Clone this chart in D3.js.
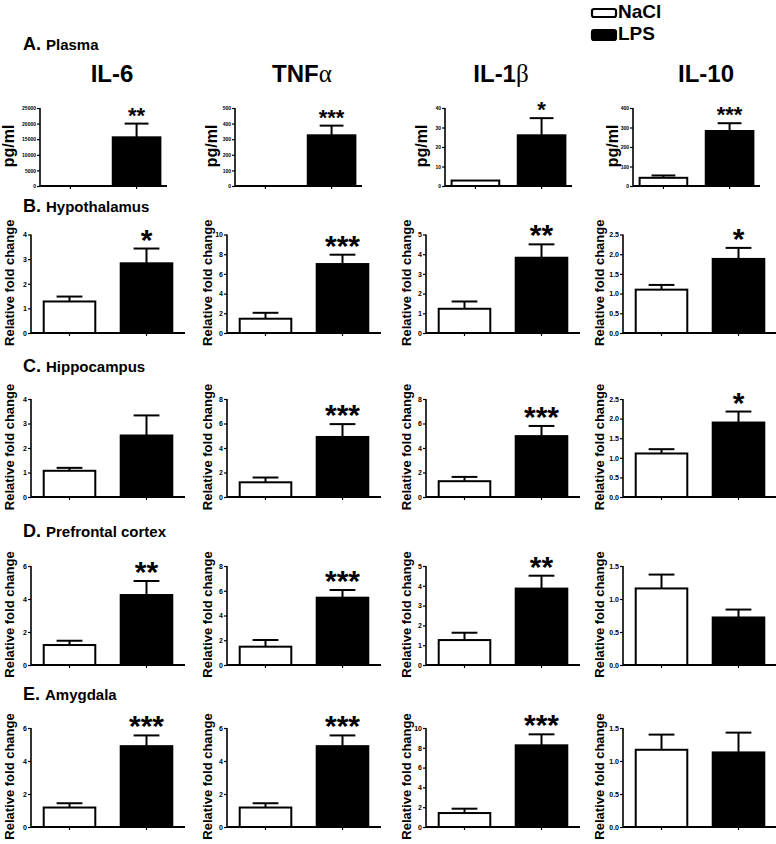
<!DOCTYPE html>
<html>
<head>
<meta charset="utf-8">
<script src="https://cdn.jsdelivr.net/npm/d3@7"></script>
<style>
  html, body { margin: 0; padding: 0; background: #fff; }
  svg { display: block; font-family: "Liberation Sans", Arial, Helvetica, sans-serif; }
</style>
</head>
<body>
<svg id="fig" width="776" height="844"></svg>
<script>
// LPS vs NaCl cytokine levels: plasma (pg/ml) and brain regions (relative fold change)
const groups = ['NaCl', 'LPS'];
const cytokines = [['IL-6', ''], ['TNF', 'α'], ['IL-1', 'β'], ['IL-10', '']];
const regions = ['Plasma', 'Hypothalamus', 'Hippocampus', 'Prefrontal cortex', 'Amygdala'];
const letters = ['A.', 'B.', 'C.', 'D.', 'E.'];
const yLabels = ['pg/ml', 'Relative fold change', 'Relative fold change', 'Relative fold change', 'Relative fold change'];

// [cytokine][NaCl, LPS]
const plasmaMean = [[0, 15600], [0, 325], [2.8, 26], [42, 282]];
const plasmaSem  = [[0, 4400], [0, 62], [0, 8.8], [12, 40]];
const hypoMean   = [[1.28, 2.83], [1.45, 7.0], [1.23, 3.82], [1.10, 1.88]];
const hypoSem    = [[0.20, 0.60], [0.60, 0.95], [0.37, 0.68], [0.12, 0.28]];
const hippoMean  = [[1.07, 2.51], [1.20, 4.9], [1.29, 4.97], [1.11, 1.90]];
const hippoSem   = [[0.12, 0.82], [0.39, 1.05], [0.35, 0.83], [0.11, 0.28]];
const pfcMean    = [[1.21, 4.24], [1.48, 5.44], [1.26, 3.86], [1.16, 0.72]];
const pfcSem     = [[0.26, 0.85], [0.54, 0.62], [0.37, 0.65], [0.21, 0.12]];
const amyMean    = [[1.18, 4.90], [1.18, 4.90], [1.41, 8.25], [1.17, 1.13]];
const amySem     = [[0.26, 0.65], [0.26, 0.65], [0.44, 1.11], [0.23, 0.30]];

const means = [plasmaMean, hypoMean, hippoMean, pfcMean, amyMean];
const sems  = [plasmaSem, hypoSem, hippoSem, pfcSem, amySem];

// axis max and tick step per panel
const yMax = [[25000, 500, 40, 400], [4, 10, 5, 2.5], [4, 8, 8, 2.5], [6, 8, 5, 1.5], [6, 6, 10, 1.5]];
const yStep = [[5000, 100, 10, 100], [1, 2, 1, 0.5], [1, 2, 2, 0.5], [2, 2, 1, 0.5], [2, 2, 2, 0.5]];

// significance marks above LPS
const stars = [['**', '***', '*', '***'], ['*', '***', '**', '*'], ['', '***', '***', '*'],
               ['**', '***', '**', ''], ['***', '***', '***', '']];

// layout
const rowTop  = [108, 234.5, 399, 566, 728];
const rowZero = [186, 333, 497, 665, 827];
const titleY  = [50, 212, 372, 537, 700];
const colXA = [40, 235, 445, 633], widthA = 127;
const colX  = [31, 227, 426, 623], width = 154;
const labelOffA = [26, 18, 18, 15];
const labelOff = [17, 15, 15, 19];
const titleX = [112, 302, 501, 706];

const svg = d3.select('#fig');

// legend
const leg = svg.append('g');
groups.forEach((g, i) => {
  leg.append('rect').attr('x', 592).attr('y', i ? 30 : 9).attr('width', 24).attr('height', i ? 10 : 8)
    .attr('rx', 2).attr('fill', i ? '#000' : '#fff').attr('stroke', '#000').attr('stroke-width', 2.2);
  leg.append('text').attr('x', 618).attr('y', i ? 40 : 18).attr('font-size', 19).attr('font-weight', 700).text(g);
});

// cytokine titles
cytokines.forEach((c, i) => {
  const t = svg.append('text').attr('x', titleX[i]).attr('y', 82).attr('text-anchor', 'middle')
    .attr('font-size', 24).attr('font-weight', 700);
  t.append('tspan').text(c[0]);
  if (c[1]) t.append('tspan').attr('font-family', '"Liberation Serif", "DejaVu Serif", serif')
    .attr('font-weight', 400).attr('font-size', 25).text(c[1]);
});

regions.forEach((reg, r) => {
  const t = svg.append('text').attr('x', 23).attr('y', titleY[r]).attr('font-weight', 700);
  t.append('tspan').attr('font-size', 18).text(letters[r]);
  t.append('tspan').attr('font-size', 15).attr('dx', 5).text(reg);

  cytokines.forEach((c, k) => {
    const plasma = r === 0;
    const x0 = plasma ? colXA[k] : colX[k];
    const w = plasma ? widthA : width;
    const g = svg.append('g').attr('transform', `translate(${x0},0)`);

    const x = d3.scaleBand().domain(groups).range([0, w])
      .paddingInner(plasma ? 0.28 : 0.33).paddingOuter(plasma ? 0.1 : 0.165);
    const y = d3.scaleLinear().domain([0, yMax[r][k]]).range([rowZero[r], rowTop[r]]);
    const ticks = d3.range(0, yMax[r][k] + yStep[r][k] / 2, yStep[r][k]);
    const fmt = yStep[r][k] < 1 ? d3.format('.1f') : d3.format('d');

    const data = groups.map((grp, i) => ({ grp, m: means[r][k][i], s: sems[r][k][i] }));

    // bars
    g.selectAll('rect.bar').data(data).enter().append('rect')
      .attr('x', d => x(d.grp)).attr('width', x.bandwidth())
      .attr('y', d => y(d.m)).attr('height', d => y(0) - y(d.m))
      .attr('fill', (d, i) => i ? '#000' : '#fff')
      .attr('stroke', '#000').attr('stroke-width', d => d.m > 0 ? 2 : 0);

    // error bars (upper only)
    const err = g.selectAll('g.err').data(data.filter(d => d.s > 0)).enter().append('g');
    err.append('line')
      .attr('x1', d => x(d.grp) + x.bandwidth() / 2).attr('x2', d => x(d.grp) + x.bandwidth() / 2)
      .attr('y1', d => y(d.m)).attr('y2', d => y(d.m + d.s))
      .attr('stroke', '#000').attr('stroke-width', 2);
    err.append('line')
      .attr('x1', d => x(d.grp) + x.bandwidth() / 4).attr('x2', d => x(d.grp) + x.bandwidth() * 3 / 4)
      .attr('y1', d => y(d.m + d.s)).attr('y2', d => y(d.m + d.s))
      .attr('stroke', '#000').attr('stroke-width', 2);

    // stars
    if (stars[r][k]) {
      const lps = data[1];
      g.append('text').attr('x', x('LPS') + x.bandwidth() / 2).attr('y', y(lps.m + lps.s) + (plasma ? -1 : 1))
        .attr('text-anchor', 'middle').attr('font-size', plasma ? 22 : 30).attr('font-weight', 700)
        .text(stars[r][k]);
    }

    // axes
    const yAxis = d3.axisLeft(y).tickValues(ticks).tickFormat(fmt).tickSize(3).tickPadding(1);
    const ya = g.append('g').call(yAxis);
    ya.select('.domain').attr('stroke-width', 1.6).attr('d', `M0,${rowTop[r]}V${rowZero[r]}`);
    ya.selectAll('.tick line').attr('stroke-width', 1.2);
    ya.selectAll('.tick text').attr('font-size', plasma ? 5 : 7).attr('font-weight', 700)
      .attr('fill', '#000').attr('font-family', '"Liberation Sans", Arial, sans-serif');

    const xAxis = d3.axisBottom(x).tickSize(3).tickFormat('');
    const xa = g.append('g').attr('transform', `translate(0,${rowZero[r]})`).call(xAxis);
    xa.select('.domain').attr('stroke-width', 1.8).attr('d', `M0,0H${w}`);
    xa.selectAll('.tick line').attr('stroke-width', 1.2);

    // y label
    const cy = (rowTop[r] + rowZero[r]) / 2 - 1;
    const lx = plasma ? -labelOffA[k] : -labelOff[k];
    g.append('text').attr('transform', `translate(${lx},${cy}) rotate(-90)`)
      .attr('text-anchor', 'middle').attr('font-weight', 700)
      .attr('font-size', plasma ? 16 : 13).text(yLabels[r]);
  });
});
</script>
</body>
</html>
